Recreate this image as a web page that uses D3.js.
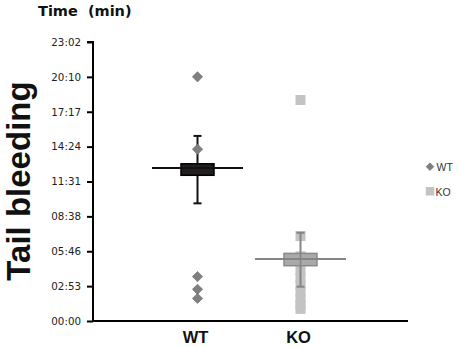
<!DOCTYPE html>
<html>
<head>
<meta charset="utf-8">
<script src="https://cdn.jsdelivr.net/npm/d3@7"></script>
<style>
  html, body { margin: 0; padding: 0; background: #fff; }
  svg { display: block; }
</style>
</head>
<body>
<svg id="chart" width="459" height="347"></svg>
<script>
// ---- data (seconds) ----
const categories = ["WT", "KO"];
const tickValues = [0, 172.8, 345.6, 518.4, 691.2, 864, 1036.8, 1209.6, 1382.4];
const tickLabels = ["00:00", "02:53", "05:46", "08:38", "11:31", "14:24", "17:17", "20:10", "23:02"];
const wtPoints = [1210, 851, 220, 157, 112];
const koPoints = [1095, 421, 320, 300, 253, 213, 178, 144, 109, 79, 60];
// [whiskerLow, q1, mean, q3, whiskerHigh]
const wtStats = [583, 722, 758, 779, 917];
const koStats = [170, 274, 307, 335, 437];
const legendLabels = ["WT", "KO"];

const svg = d3.select("#chart");
const x0 = 93, x1 = 408, yTop = 42, yBot = 321;

const y = d3.scaleLinear().domain([0, 1382.4]).range([yBot, yTop]);
const x = d3.scalePoint().domain(categories).range([x0 + 104.5, x1 - 107.5]);

// y axis
const yAxis = d3.axisLeft(y).tickValues(tickValues)
  .tickFormat((d, i) => tickLabels[i]).tickSize(6).tickPadding(6);
const gy = svg.append("g").attr("transform", `translate(${x0},0)`).call(yAxis);
gy.select(".domain").attr("stroke", "#000").attr("stroke-width", 2)
  .attr("d", `M-6,${yTop}H0V${yBot}`);
gy.selectAll(".tick line").attr("stroke", "#000").attr("stroke-width", 2);
gy.selectAll(".tick text").attr("fill", "#222")
  .style("font-family", "'DejaVu Sans', sans-serif").style("font-size", "10.3px");

// x axis
svg.append("line").attr("x1", x0 - 1).attr("x2", x1).attr("y1", yBot).attr("y2", yBot)
  .attr("stroke", "#000").attr("stroke-width", 2);
svg.selectAll(".xlab").data(categories).enter().append("text")
  .attr("x", d => x(d) - 2).attr("y", 343)
  .attr("text-anchor", "middle")
  .style("font-family", "'Liberation Sans', Arial, sans-serif")
  .style("font-weight", "bold").style("font-size", "16.5px").attr("fill", "#111")
  .text(d => d);

// titles
svg.append("text").attr("x", 38).attr("y", 16)
  .style("font-family", "'DejaVu Sans', sans-serif").style("font-weight", "bold")
  .style("font-size", "14.5px").attr("fill", "#111")
  .text("Time\u00a0\u00a0(min)");
svg.append("text").attr("transform", "translate(30,181) rotate(-90)")
  .attr("text-anchor", "middle")
  .style("font-family", "'Liberation Sans', Arial, sans-serif").style("font-weight", "bold")
  .style("font-size", "33px").attr("fill", "#111")
  .text("Tail bleeding");

const diamond = d3.symbol().type(d3.symbolDiamond2);

function drawBox(cat, s, opts) {
  const cx = x(cat);
  const g = svg.append("g");
  g.append("line").attr("x1", cx).attr("x2", cx).attr("y1", y(s[0])).attr("y2", y(s[4]))
    .attr("stroke", opts.line).attr("stroke-width", 2);
  [s[0], s[4]].forEach(v => g.append("line").attr("x1", cx - 4).attr("x2", cx + 4)
    .attr("y1", y(v)).attr("y2", y(v)).attr("stroke", opts.line).attr("stroke-width", 2));
  g.append("rect").attr("x", cx - 16.5).attr("width", 33)
    .attr("y", y(s[3])).attr("height", y(s[1]) - y(s[3]))
    .attr("fill", opts.fill).attr("stroke", opts.stroke).attr("stroke-width", 1.5);
  if (opts.inner) {
    g.append("line").attr("x1", cx).attr("x2", cx).attr("y1", y(s[3])).attr("y2", y(s[1]))
      .attr("stroke", opts.line).attr("stroke-width", 1.5);
  }
  g.append("line").attr("x1", cx - 45.5).attr("x2", cx + 45.5)
    .attr("y1", y(s[2])).attr("y2", y(s[2]))
    .attr("stroke", opts.line).attr("stroke-width", 2);
}

// KO squares first (under box)
svg.selectAll(".ko").data(koPoints).enter().append("rect")
  .attr("x", x("KO") - 5).attr("width", 10)
  .attr("y", d => y(d) - 5).attr("height", 10)
  .attr("fill", "#c3c3c3");
drawBox("KO", koStats, { line: "#858585", fill: "#a9a9a9", stroke: "#8a8a8a", inner: true });

drawBox("WT", wtStats, { line: "#111", fill: "#231f20", stroke: "#000", inner: false });
svg.selectAll(".wt").data(wtPoints).enter().append("path")
  .attr("d", diamond.size(68))
  .attr("transform", d => `translate(${x("WT")},${y(d)})`)
  .attr("fill", "#7f7f7f").attr("stroke", "#6d6d6d").attr("stroke-width", 0.6);

// legend
const lg = svg.append("g");
lg.append("path").attr("d", diamond.size(38)).attr("transform", "translate(430,166.7)")
  .attr("fill", "#7f7f7f").attr("stroke", "#6d6d6d").attr("stroke-width", 0.6);
lg.append("rect").attr("x", 425.8).attr("y", 187).attr("width", 8.5).attr("height", 8.5)
  .attr("fill", "#c3c3c3");
lg.selectAll(".lt").data(legendLabels).enter().append("text")
  .attr("x", (d, i) => i === 0 ? 436.5 : 435.5).attr("y", (d, i) => i === 0 ? 170.8 : 195.5)
  .style("font-family", "'Liberation Sans', Arial, sans-serif").style("font-size", "10.5px")
  .attr("fill", "#333").text(d => d);
</script>
</body>
</html>
